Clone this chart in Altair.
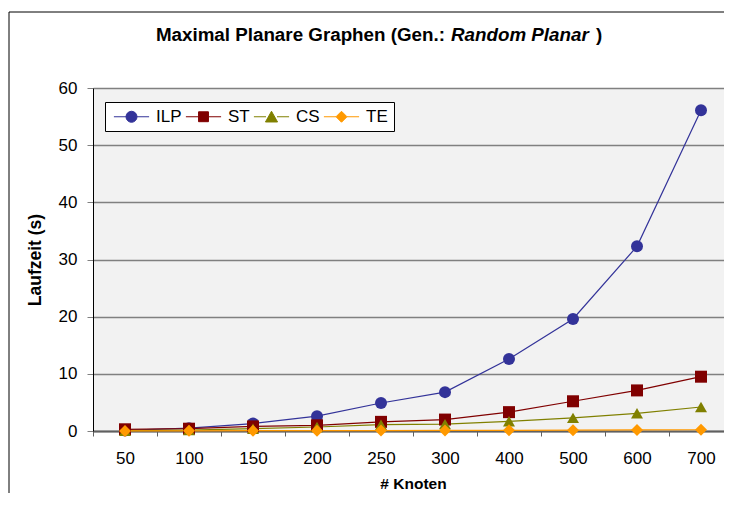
import altair as alt
import pandas as pd

knoten = ["50", "100", "150", "200", "250", "300", "400", "500", "600", "700"]
series = ["ILP", "ST", "CS", "TE"]
ilp = [0.1, 0.5, 1.3, 2.6, 4.9, 6.8, 12.6, 19.6, 32.3, 56.1]
st = [0.3, 0.4, 0.8, 1.0, 1.6, 2.0, 3.3, 5.2, 7.1, 9.5]
cs = [0.05, 0.15, 0.4, 0.7, 1.1, 1.2, 1.7, 2.3, 3.1, 4.2]
te = [0.02, 0.03, 0.05, 0.06, 0.08, 0.1, 0.12, 0.15, 0.18, 0.22]
colors = ["#333399", "#800000", "#808000", "#FF9900"]
shapes = ["circle", "square", "triangle-up", "diamond"]
legend_shapes = [
    "M-3.2,0H-1M1,0H3.2M-1,0A1,1,0,1,1,1,0A1,1,0,1,1,-1,0Z",
    "M-3.2,0H-1M1,0H3.2M-0.9,-0.9H0.9V0.9H-0.9Z",
    "M-3.2,0H-1M1,0H3.2M0,-1L1.1,0.95L-1.1,0.95Z",
    "M-3.2,0H-1M1,0H3.2M0,-1L1,0L0,1L-1,0Z",
]

rows = []
for s, vals in zip(series, [ilp, st, cs, te]):
    for i, (k, v) in enumerate(zip(knoten, vals)):
        rows.append({"Knoten": k, "i": i, "Serie": s, "Laufzeit": v})
df = pd.DataFrame(rows)

FONT = "Liberation Sans"

xenc = alt.X(
    "Knoten:N",
    sort=knoten,
    scale=alt.Scale(type="band", domain=knoten, paddingInner=0, paddingOuter=0),
    axis=alt.Axis(
        title="# Knoten", labelAngle=0, tickBand="extent", tickSize=5,
        tickColor="#606060", domainColor="#606060", domainWidth=2,
        labelFont=FONT, labelFontSize=17, labelColor="black", labelPadding=14,
        titleFont=FONT, titleFontSize=15.5, titleFontWeight="bold", titleColor="black",
        titlePadding=10, grid=False,
    ),
)
yenc = alt.Y(
    "Laufzeit:Q",
    scale=alt.Scale(domain=[0, 60], nice=False),
    axis=alt.Axis(
        title="Laufzeit (s)", values=[0, 10, 20, 30, 40, 50, 60], grid=True,
        gridColor="#808080", gridWidth=1.3, domainColor="black", tickColor="#808080",
        tickSize=6, labelPadding=10, labelFont=FONT, labelFontSize=17, labelColor="black",
        titleFont=FONT, titleFontSize=17.5, titleFontWeight="bold", titleColor="black",
        titlePadding=14,
    ),
)
cscale = alt.Scale(domain=series, range=colors)

base = alt.Chart(df)
lines = base.mark_line(strokeWidth=1.2).encode(
    x=xenc, y=yenc,
    color=alt.Color("Serie:N", scale=cscale, legend=None),
    order=alt.Order("i:Q"),
)
points = base.mark_point(filled=True, opacity=1, size=144).encode(
    x=xenc, y=yenc,
    color=alt.Color("Serie:N", scale=cscale, legend=None),
    shape=alt.Shape("Serie:N", scale=alt.Scale(domain=series, range=shapes), legend=None),
)
leg = alt.Legend(
    title=None, orient="none", legendX=12, legendY=14, direction="horizontal",
    columns=4, fillColor="white", strokeColor="black", padding=6,
    symbolSize=121, symbolStrokeWidth=1, symbolOffset=12, labelOffset=16,
    columnPadding=1, labelFont=FONT, labelFontSize=17, labelColor="black",
)
legend_layer = base.mark_point(filled=True, opacity=1, size=121).encode(
    x=xenc, y=yenc,
    color=alt.Color("Serie:N", scale=cscale, legend=leg),
    stroke=alt.Stroke("Serie:N", scale=cscale, legend=leg),
    shape=alt.Shape("Serie:N", scale=alt.Scale(domain=series, range=legend_shapes), legend=leg),
).transform_filter("datum.Laufzeit < -1")

fdata = alt.Data(values=[{}])
frame_left = alt.Chart(fdata).mark_rule(stroke="black", strokeWidth=1).encode(
    x=alt.value(-84), y=alt.value(-76), y2=alt.value(420)
)
frame_top = alt.Chart(fdata).mark_rule(stroke="black", strokeWidth=1).encode(
    x=alt.value(-84), x2=alt.value(660), y=alt.value(-76)
)

tdata = alt.Data(values=[{}])
t1 = alt.Chart(tdata).mark_text(
    font=FONT, fontSize=18.8, fontWeight="bold", align="right", baseline="alphabetic", color="black"
).encode(x=alt.value(352), y=alt.value(-47), text=alt.value("Maximal Planare Graphen (Gen.:"))
t2 = alt.Chart(tdata).mark_text(
    font=FONT, fontSize=18.8, fontWeight="bold", fontStyle="italic", align="left",
    baseline="alphabetic", color="black"
).encode(x=alt.value(358), y=alt.value(-47), text=alt.value("Random Planar"))
t3 = alt.Chart(tdata).mark_text(
    font=FONT, fontSize=18.8, fontWeight="bold", align="left", baseline="alphabetic", color="black"
).encode(x=alt.value(503), y=alt.value(-47), text=alt.value(")"))

chart = alt.layer(frame_left, frame_top, lines, points, legend_layer, t1, t2, t3).resolve_scale(
    shape="independent"
).resolve_legend(color="independent", shape="independent", stroke="independent").properties(
    width=640, height=343,
    autosize=alt.AutoSizeParams(type="none"),
    padding={"left": 85, "top": 80, "right": -9, "bottom": 62},
    background="white",
).configure_view(fill="#f2f2f2", stroke=None)

chart.save("out.html", embed_options={"renderer": "svg", "actions": False})
